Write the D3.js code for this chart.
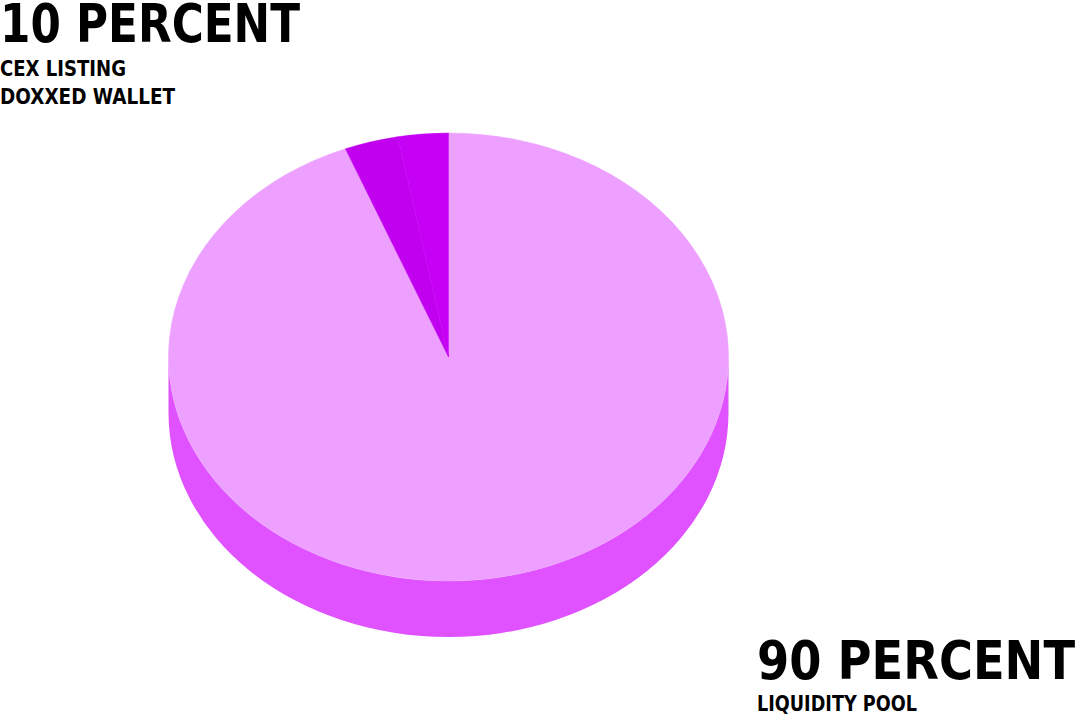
<!DOCTYPE html>
<html>
<head>
<meta charset="utf-8">
<script src="https://cdn.jsdelivr.net/npm/d3@7"></script>
<style>
  html, body { margin: 0; padding: 0; background: #ffffff; }
  svg { display: block; }
  text { font-family: "DejaVu Sans", sans-serif; font-weight: bold; fill: #000; }
</style>
</head>
<body>
<svg id="chart" width="1078" height="716"></svg>
<script>
// ---- data ----
const categories = ["Liquidity Pool", "CEX Listing", "Doxxed Wallet"];
const values = [94, 3.1, 2.9];
const topColors = ["#eda0ff", "#c000ee", "#c600f5"];
const sideColors = ["#e052ff", "#a800d0", "#b000dc"];
const headline1 = "10 PERCENT";
const sublines1 = ["CEX LISTING", "DOXXED WALLET"];
const headline2 = "90 PERCENT";
const sublines2 = ["LIQUIDITY POOL"];

// ---- layout ----
const svg = d3.select("#chart");
const cx = 448.5, cy = 357, rx = 280, ry = 224, depth = 56;

const pie = d3.pie().sort(null).value(d => d)(values);
const pt = (a, dy = 0) => [cx + rx * Math.sin(a), cy - ry * Math.cos(a) + dy];

// side faces (front half only: angles PI/2 .. 3PI/2)
const sideG = svg.append("g");
pie.forEach((s, i) => {
  const a0 = Math.max(s.startAngle, Math.PI / 2);
  const a1 = Math.min(s.endAngle, 3 * Math.PI / 2);
  if (a1 <= a0) return;
  const p0 = pt(a0), p1 = pt(a1), q1 = pt(a1, depth), q0 = pt(a0, depth);
  const large = (a1 - a0) > Math.PI ? 1 : 0;
  const path = `M${p0}A${rx},${ry} 0 ${large} 1 ${p1}L${q1}A${rx},${ry} 0 ${large} 0 ${q0}Z`;
  sideG.append("path").attr("d", path).attr("fill", sideColors[i]);
});

// top faces
const topG = svg.append("g");
pie.forEach((s, i) => {
  const p0 = pt(s.startAngle), p1 = pt(s.endAngle);
  const large = (s.endAngle - s.startAngle) > Math.PI ? 1 : 0;
  const path = `M${cx},${cy}L${p0}A${rx},${ry} 0 ${large} 1 ${p1}Z`;
  topG.append("path").attr("d", path).attr("fill", topColors[i])
    .attr("stroke", topColors[i]).attr("stroke-width", 0.5);
});

// ---- labels ----
function label(x, y, txt, size, width) {
  svg.append("text").attr("x", x).attr("y", y)
    .attr("font-size", size)
    .attr("textLength", width).attr("lengthAdjust", "spacingAndGlyphs")
    .text(txt);
}
label(0, 42, headline1, 54, 300);
label(0, 76, sublines1[0], 22, 126);
label(0, 104, sublines1[1], 22, 175);
label(757, 679, headline2, 54, 318);
label(757, 711, sublines2[0], 21, 160);
</script>
</body>
</html>
